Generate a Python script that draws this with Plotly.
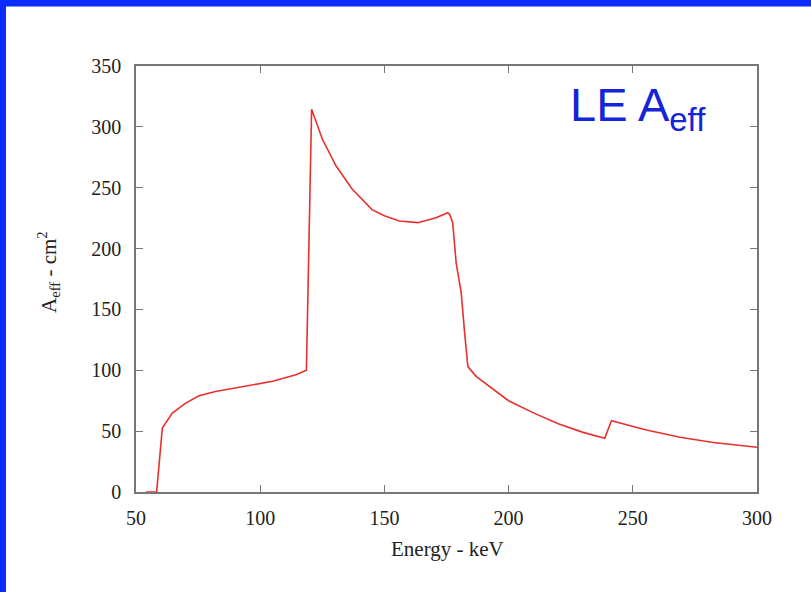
import plotly.graph_objects as go

energy_kev = [54, 58.3, 60.6, 64.6, 70, 75.4, 82, 91.5, 105, 114.4, 118.6,
              120.7, 125, 130.5, 137, 145, 150, 156, 163.5, 170.8, 175.5, 176.3,
              177.5, 178.9, 180.9, 182.2, 183.6, 186.9, 192.3, 200, 210, 220,
              230, 238.7, 241.4, 255.5, 269, 282.4, 300]
aeff_cm2 = [0, 0, 52.5, 64.8, 73, 79, 82.6, 86, 91, 96.3, 100,
            314.5, 290, 268, 249, 232, 227, 222.6, 221.3, 225.4, 229.5, 228,
            221, 188, 164, 133, 103, 95, 86.7, 75, 65, 56,
            49, 44.2, 58.5, 51, 45, 40.6, 36.8]

x_ticks = [50, 100, 150, 200, 250, 300]
y_ticks = [0, 50, 100, 150, 200, 250, 300, 350]

W, H = 811, 592
L, R, T, B = 136, 757, 66, 492
pw, ph = R - L, B - T

def px(xp):
    return (xp - L) / pw

def py(yp):
    return (B - yp) / ph

serif = "Liberation Serif"
axis_col = "#777777"

fig = go.Figure()
fig.add_trace(go.Scatter(x=energy_kev, y=aeff_cm2, mode="lines",
                         line=dict(color="#e8302e", width=1.6),
                         hoverinfo="skip", showlegend=False))

axis_common = dict(showgrid=False, zeroline=False, showline=True,
                   linecolor=axis_col, linewidth=1.5, mirror="ticks",
                   ticks="inside", ticklen=7, tickcolor=axis_col, tickwidth=1.2,
                   tickfont=dict(family=serif, size=20, color="#222222"))

fig.update_xaxes(range=[50, 300], tickvals=x_ticks, ticklabelstandoff=7,
                 ticktext=[str(v) for v in x_ticks], **axis_common)
fig.update_yaxes(range=[0, 350], tickvals=y_ticks, ticklabelstandoff=9,
                 ticktext=[str(v) for v in y_ticks], **axis_common)

shapes = [
    dict(type="rect", xref="paper", yref="paper",
         x0=px(0), x1=px(W), y0=py(0), y1=py(6.5),
         fillcolor="#0b2bff", line=dict(width=0), layer="above"),
    dict(type="rect", xref="paper", yref="paper",
         x0=px(0), x1=px(6), y0=py(0), y1=py(H),
         fillcolor="#0b2bff", line=dict(width=0), layer="above"),
]

annotations = [
    dict(text="LE A<sub>eff</sub>", xref="paper", yref="paper",
         x=px(568), y=py(76), xanchor="left", yanchor="top", showarrow=False,
         font=dict(family="Liberation Sans", size=47, color="#1424d8")),
    dict(text="Energy - keV", xref="paper", yref="paper",
         x=px(447), y=py(549), xanchor="center", yanchor="middle",
         showarrow=False, font=dict(family=serif, size=21, color="#222222")),
    dict(text="A<sub>eff</sub> - cm<sup>2</sup>", xref="paper", yref="paper",
         x=px(48), y=py(272), xanchor="center", yanchor="middle",
         textangle=-90, showarrow=False,
         font=dict(family=serif, size=21, color="#222222")),
]

fig.update_layout(width=W, height=H, autosize=False,
                  margin=dict(l=L, r=W - R, t=T, b=H - B, pad=0),
                  paper_bgcolor="white", plot_bgcolor="white",
                  shapes=shapes, annotations=annotations)

fig.write_html("out.html")
